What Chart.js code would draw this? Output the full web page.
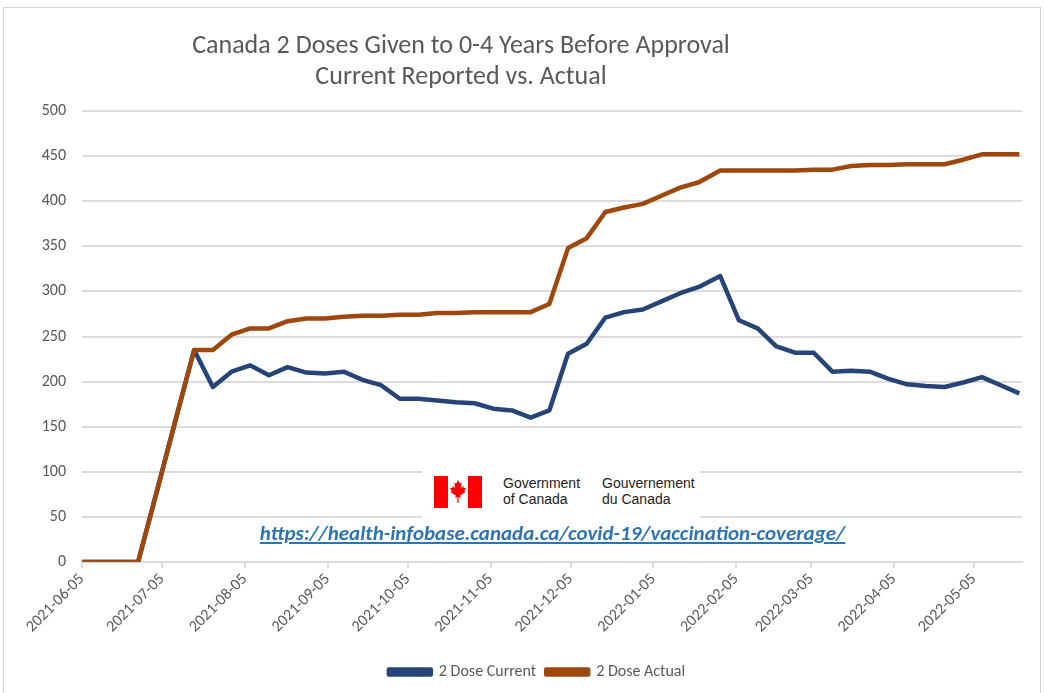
<!DOCTYPE html>
<html lang="en">
<head>
    <meta charset="UTF-8">
    <title>Canada 2 Doses Given to 0-4 Years Before Approval</title>
    <script src="https://cdn.jsdelivr.net/npm/chart.js"></script>
    <style>
        body {
            margin: 0;
            background: #fff;
            font-family: Carlito, Calibri, Lato, sans-serif;
        }
        .frame {
            position: absolute;
            left: 3px;
            top: 7px;
            width: 1036px;
            height: 700px;
            border: 1px solid #d4d4d4;
        }
        .wrap {
            position: absolute;
            left: 0;
            top: 0;
            width: 1044px;
            height: 693px;
        }
        .chart-title {
            position: absolute;
            left: 0;
            top: 29px;
            width: 922px;
            text-align: center;
            font-size: 26px;
            line-height: 31px;
            color: #595959;
        }
        .gov {
            position: absolute;
            left: 422px;
            top: 466px;
            width: 278px;
            height: 52px;
            background: #fff;
        }
        .gov svg {
            position: absolute;
            left: 12px;
            top: 10px;
        }
        .gov .txt {
            position: absolute;
            top: 9px;
            font-family: 'Liberation Sans', Arial, sans-serif;
            font-size: 14px;
            line-height: 16px;
            color: #222;
        }
        .source {
            position: absolute;
            left: 0;
            width: 1105px;
            top: 520px;
            text-align: center;
            font-size: 21px;
            font-weight: bold;
            font-style: italic;
            color: #2e74b5;
            text-decoration: underline;
        }
    </style>
</head>
<body>
    <div class="frame"></div>
    <div class="wrap">
        <canvas id="dosesChart" width="1044" height="693"></canvas>
    </div>
    <div class="chart-title">Canada 2 Doses Given to 0-4 Years Before Approval<br>Current Reported vs. Actual</div>
    <div class="gov">
        <svg width="48" height="32" viewBox="0 0 48 32">
            <rect x="0" y="0" width="14" height="32" fill="#ff0000"/>
            <rect x="34" y="0" width="14" height="32" fill="#ff0000"/>
            <polygon fill="#ff0000" points="24,4 25.8,7.5 27.6,6.8 27,12 29.8,9.6 29.2,11.8 32,12.2 30.3,15 31.4,16.2 26.2,19.6 26.8,21.8 24.6,21.2 24.6,27 23.4,27 23.4,21.2 21.2,21.8 21.8,19.6 16.6,16.2 17.7,15 16,12.2 18.8,11.8 18.2,9.6 21,12 20.4,6.8 22.2,7.5"/>
        </svg>
        <div class="txt" style="left:81px">Government<br>of Canada</div>
        <div class="txt" style="left:180px">Gouvernement<br>du Canada</div>
    </div>
    <div class="source">https://health-infobase.canada.ca/covid-19/vaccination-coverage/</div>
    <script>
        // weekly report dates (Saturdays, then Sundays from late Jan 2022)
        const weekDates = [
            '2021-06-05', '2021-06-12', '2021-06-19', '2021-06-26', '2021-07-03', '2021-07-10',
            '2021-07-17', '2021-07-24', '2021-07-31', '2021-08-07', '2021-08-14', '2021-08-21',
            '2021-08-28', '2021-09-04', '2021-09-11', '2021-09-18', '2021-09-25', '2021-10-02',
            '2021-10-09', '2021-10-16', '2021-10-23', '2021-10-30', '2021-11-06', '2021-11-13',
            '2021-11-20', '2021-11-27', '2021-12-04', '2021-12-11', '2021-12-18', '2021-12-25',
            '2022-01-01', '2022-01-08', '2022-01-15', '2022-01-22', '2022-01-30', '2022-02-06',
            '2022-02-13', '2022-02-20', '2022-02-27', '2022-03-06', '2022-03-13', '2022-03-20',
            '2022-03-27', '2022-04-03', '2022-04-10', '2022-04-17', '2022-04-24', '2022-05-01',
            '2022-05-08', '2022-05-15', '2022-05-22'
        ];
        const doseCurrent = [
            0, 0, 0, 0, 78, 157, 235, 194, 211, 218, 207, 216, 210, 209, 211, 202, 196,
            181, 181, 179, 177, 176, 170, 168, 160, 168, 231, 242, 271, 277, 280, 289, 298,
            305, 317, 268, 259, 239, 232, 232, 211, 212, 211, 203, 197, 195, 194, 199, 205,
            196, 187
        ];
        const doseActual = [
            0, 0, 0, 0, 78, 157, 235, 235, 252, 259, 259, 267, 270, 270, 272, 273, 273,
            274, 274, 276, 276, 277, 277, 277, 277, 286, 348, 359, 388, 393, 397, 406, 415,
            421, 434, 434, 434, 434, 434, 435, 435, 439, 440, 440, 441, 441, 441, 446, 452,
            452, 452
        ];
        const tickLabels = [
            '2021-06-05', '2021-07-05', '2021-08-05', '2021-09-05', '2021-10-05', '2021-11-05',
            '2021-12-05', '2022-01-05', '2022-02-05', '2022-03-05', '2022-04-05', '2022-05-05'
        ];

        const dayMs = 86400000;
        const startMs = Date.parse(weekDates[0]);
        const toDay = d => Math.round((Date.parse(d) - startMs) / dayMs);
        const tickDays = tickLabels.map(toDay);
        const textColor = '#595959';
        const gridColor = '#dcdcdc';
        const fontFamily = 'Carlito, Calibri, Lato, sans-serif';

        // nudge the legend a little right, like the original
        const legendShift = {
            id: 'legendShift',
            afterLayout(chart) {
                if (chart.legend) {
                    chart.legend.left += 26;
                    chart.legend.right += 26;
                }
            }
        };

        const ctx = document.getElementById('dosesChart').getContext('2d');
        new Chart(ctx, {
            type: 'line',
            data: {
                datasets: [{
                    label: '2 Dose Current',
                    data: weekDates.map((d, i) => ({ x: toDay(d), y: doseCurrent[i] })),
                    borderColor: '#264478',
                    backgroundColor: '#264478',
                    borderWidth: 4.5,
                    pointRadius: 0,
                    tension: 0,
                    borderJoinStyle: 'round',
                    order: 1
                }, {
                    label: '2 Dose Actual',
                    data: weekDates.map((d, i) => ({ x: toDay(d), y: doseActual[i] })),
                    borderColor: '#9e480e',
                    backgroundColor: '#9e480e',
                    borderWidth: 4.5,
                    pointRadius: 0,
                    tension: 0,
                    borderJoinStyle: 'round',
                    order: 0
                }]
            },
            options: {
                responsive: false,
                animation: false,
                layout: {
                    padding: { left: 0, right: 22, top: 111, bottom: 3 }
                },
                scales: {
                    x: {
                        type: 'linear',
                        min: 0,
                        max: 352,
                        afterBuildTicks: scale => {
                            scale.ticks = tickDays.map(v => ({ value: v }));
                        },
                        afterFit: scale => { scale.height = 92; },
                        ticks: {
                            autoSkip: false,
                            minRotation: 45,
                            maxRotation: 45,
                            padding: 2,
                            color: textColor,
                            font: { family: fontFamily, size: 16 },
                            callback: v => tickLabels[tickDays.indexOf(v)]
                        },
                        grid: {
                            drawOnChartArea: false,
                            drawTicks: true,
                            tickLength: 6,
                            color: gridColor,
                            lineWidth: 2
                        },
                        border: { display: true, color: gridColor, width: 2 }
                    },
                    y: {
                        min: 0,
                        max: 500,
                        afterFit: scale => { scale.width = 82; },
                        ticks: {
                            stepSize: 50,
                            padding: 16,
                            color: textColor,
                            font: { family: fontFamily, size: 16 }
                        },
                        grid: {
                            drawTicks: false,
                            color: gridColor,
                            lineWidth: 2
                        },
                        border: { display: false }
                    }
                },
                plugins: {
                    legend: {
                        position: 'bottom',
                        labels: {
                            boxWidth: 42,
                            boxHeight: 5,
                            padding: 10,
                            color: textColor,
                            font: { family: fontFamily, size: 16 },
                            sort: (a, b) => a.datasetIndex - b.datasetIndex
                        }
                    },
                    tooltip: { enabled: false }
                }
            },
            plugins: [legendShift]
        });
    </script>
</body>
</html>
